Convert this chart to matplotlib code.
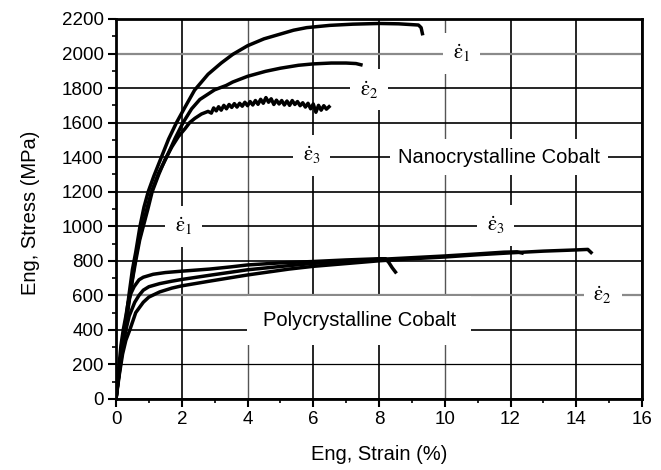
import numpy as np
import matplotlib.pyplot as plt
from matplotlib.ticker import MultipleLocator

plt.rcParams['font.family'] = ['Liberation Sans', 'DejaVu Sans']
plt.rcParams['mathtext.fontset'] = 'stix'

# Nanocrystalline cobalt, three strain rates (strain %, stress MPa)
nano1_strain = [0, 0.05, 0.1, 0.15, 0.2, 0.3, 0.4, 0.5, 0.6, 0.73, 0.85, 0.98, 1.15, 1.38, 1.6, 1.84,
                2.1, 2.39, 2.8, 3.2, 3.55, 4.0, 4.5, 4.95, 5.4, 5.8, 6.5, 7.2, 8.0, 8.6, 9.2, 9.28, 9.32]
nano1_stress = [0, 90, 170, 240, 320, 460, 610, 750, 850, 1000, 1110, 1200, 1290, 1400, 1505, 1600,
                1690, 1788, 1880, 1945, 1995, 2045, 2085, 2110, 2135, 2150, 2163, 2170, 2174, 2172, 2165, 2150, 2115]

nano2_strain = [0, 0.05, 0.1, 0.15, 0.2, 0.3, 0.4, 0.5, 0.58, 0.7, 0.81, 0.95, 1.08, 1.3, 1.54, 1.8,
                2.04, 2.3, 2.55, 3.0, 3.35, 3.55, 4.0, 4.55, 5.0, 5.55, 6.0, 6.55, 7.0, 7.3, 7.45]
nano2_stress = [0, 85, 160, 230, 300, 440, 580, 700, 800, 920, 1000, 1110, 1200, 1310, 1400, 1510,
                1600, 1680, 1734, 1790, 1815, 1835, 1868, 1897, 1915, 1932, 1940, 1945, 1945, 1942, 1935]

nano3_strain = [0, 0.05, 0.1, 0.15, 0.2, 0.3, 0.4, 0.5, 0.6, 0.72, 0.83, 0.97, 1.1, 1.3, 1.5, 1.7, 1.9,
                2.1, 2.24, 2.4, 2.6, 2.8, 2.9, 2.97, 3.05, 3.12, 3.2, 3.28, 3.36, 3.44, 3.52, 3.6, 3.68,
                3.76, 3.84, 3.92, 4.0, 4.08, 4.16, 4.24, 4.32, 4.4, 4.48, 4.56, 4.64, 4.72, 4.8, 4.88,
                4.96, 5.04, 5.12, 5.2, 5.28, 5.36, 5.44, 5.52, 5.6, 5.68, 5.76, 5.84, 5.92, 6.0, 6.08,
                6.16, 6.24, 6.32, 6.4, 6.48]
nano3_stress = [0, 80, 150, 220, 290, 430, 565, 690, 800, 920, 1000, 1100, 1200, 1300, 1390, 1460, 1520,
                1565, 1600, 1625, 1650, 1665, 1655, 1685, 1668, 1692, 1672, 1700, 1680, 1705, 1688, 1710, 1690,
                1712, 1695, 1718, 1698, 1722, 1702, 1728, 1706, 1735, 1712, 1745, 1718, 1738, 1705, 1730,
                1708, 1728, 1702, 1725, 1700, 1728, 1705, 1722, 1698, 1715, 1690, 1712, 1680, 1708, 1660,
                1700, 1672, 1698, 1678, 1692]

# Polycrystalline cobalt, three strain rates
poly1_strain = [0, 0.05, 0.1, 0.15, 0.22, 0.3, 0.37, 0.45, 0.55, 0.7, 0.83, 1.13, 1.5, 2.0, 2.84, 3.5,
                4.0, 5.0, 6.0, 7.0, 8.0, 8.2, 8.3, 8.4, 8.5]
poly1_stress = [0, 110, 210, 310, 400, 480, 560, 610, 650, 690, 705, 722, 732, 740, 752, 765,
                776, 788, 796, 805, 812, 812, 790, 760, 735]

poly2_strain = [0, 0.05, 0.1, 0.2, 0.3, 0.4, 0.57, 0.7, 0.83, 1.0, 1.33, 1.7, 2.0, 2.84, 4.0, 5.26,
                6.0, 7.0, 8.0, 9.0, 10.0, 11.0, 11.8, 12.2, 12.35]
poly2_stress = [0, 85, 170, 300, 400, 480, 560, 600, 630, 650, 668, 682, 692, 716, 748, 772,
                785, 797, 808, 818, 828, 840, 850, 852, 845]

poly3_strain = [0, 0.05, 0.1, 0.2, 0.3, 0.42, 0.6, 0.83, 1.0, 1.33, 1.7, 2.0, 2.84, 4.0, 5.26, 6.0,
                7.0, 8.0, 9.0, 10.0, 11.0, 12.0, 13.0, 14.0, 14.35, 14.45]
poly3_stress = [0, 70, 140, 260, 340, 400, 500, 560, 590, 620, 642, 655, 682, 718, 752, 768,
                784, 800, 812, 822, 835, 846, 856, 863, 866, 848]

fig = plt.figure(figsize=(6.61, 4.70), dpi=100)
ax = fig.add_axes([0.1755, 0.1511, 0.7958, 0.8085])

ax.set_xlim(0, 16)
ax.set_ylim(0, 2200)
ax.xaxis.set_major_locator(MultipleLocator(2))
ax.xaxis.set_minor_locator(MultipleLocator(1))
ax.yaxis.set_major_locator(MultipleLocator(200))
ax.yaxis.set_minor_locator(MultipleLocator(100))

ax.grid(True, which='major', color='black', lw=1.2, zorder=0)
ax.set_axisbelow(True)
for gl, val in zip(ax.get_ygridlines(), ax.get_yticks()):
    if val in (600, 2000):
        gl.set_color('#8a8a8a')
        gl.set_linewidth(1.6)
    if val == 200:
        gl.set_linewidth(0.9)
for gl, val in zip(ax.get_xgridlines(), ax.get_xticks()):
    if val in (4, 10):
        gl.set_color('#555555')
        gl.set_linewidth(1.0)

for s in ax.spines.values():
    s.set_linewidth(2.0)
ax.tick_params(which='major', direction='out', length=6, width=1.5, labelsize=13.5, pad=3)
ax.tick_params(which='minor', direction='out', length=3, width=1.2)

for xs, ys in [(nano1_strain, nano1_stress), (nano2_strain, nano2_stress), (nano3_strain, nano3_stress),
               (poly1_strain, poly1_stress), (poly2_strain, poly2_stress), (poly3_strain, poly3_stress)]:
    ax.plot(xs, ys, color='black', lw=2.5, zorder=4)

box = dict(facecolor='white', edgecolor='none', pad=7)
lab = dict(fontsize=15, ha='center', va='center', zorder=3, bbox=box)
ax.text(10.5, 2000, r'$\dot{\mathrm{ε}}_1$', **lab)
ax.text(7.7, 1790, r'$\dot{\mathrm{ε}}_2$', **lab)
ax.text(5.95, 1410, r'$\dot{\mathrm{ε}}_3$', **lab)
ax.text(2.05, 1000, r'$\dot{\mathrm{ε}}_1$', **lab)
ax.text(11.55, 1005, r'$\dot{\mathrm{ε}}_3$', **lab)
ax.text(14.8, 600, r'$\dot{\mathrm{ε}}_2$', **lab)

ax.text(11.65, 1400, 'Nanocrystalline Cobalt', fontsize=14.5, ha='center', va='center', zorder=3,
        bbox=dict(facecolor='white', edgecolor='none', pad=6))
ax.text(7.4, 455, 'Polycrystalline Cobalt', fontsize=14.5, ha='center', va='center', zorder=3,
        bbox=dict(facecolor='white', edgecolor='none', pad=11))

ax.set_xlabel('Eng, Strain (%)', fontsize=14.5)
ax.set_ylabel('Eng, Stress (MPa)', fontsize=14.5)
ax.xaxis.set_label_coords(0.5, -0.12)
ax.yaxis.set_label_coords(-0.145, 0.49)

fig.savefig('out.png', dpi=100)
